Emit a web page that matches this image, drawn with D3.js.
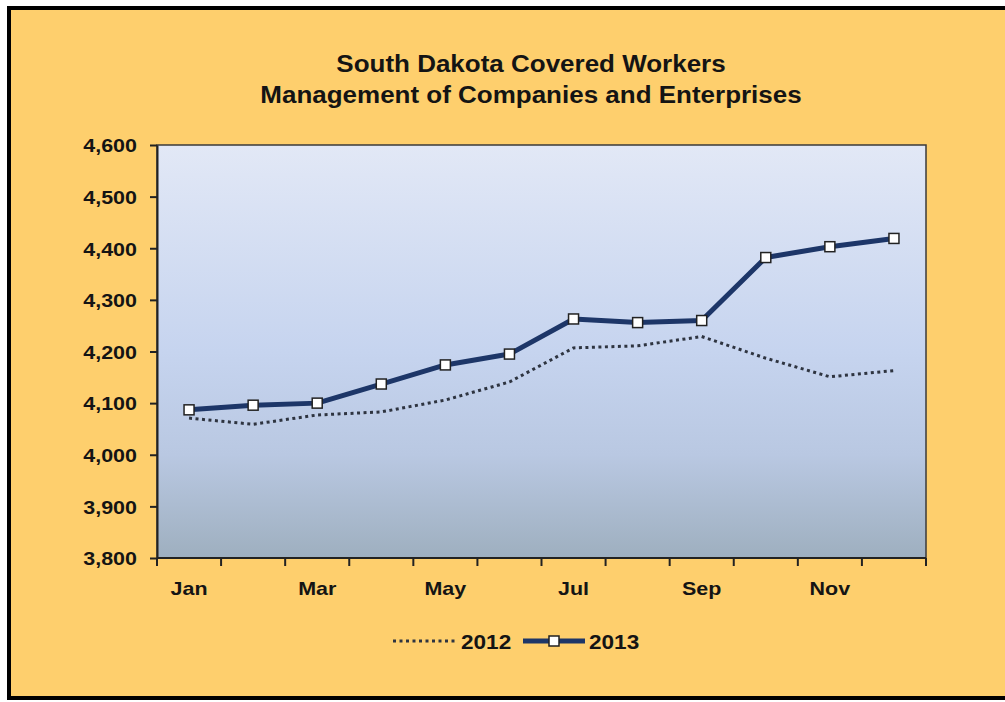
<!DOCTYPE html>
<html>
<head>
<meta charset="utf-8">
<script src="https://cdn.jsdelivr.net/npm/d3@7"></script>
<style>
  body { margin: 0; background: #fff; }
  text { font-family: "Liberation Sans", Arial, sans-serif; font-weight: bold; fill: #141414; }
</style>
</head>
<body>
<svg id="chart" width="1005" height="702"></svg>
<script>
const months = ["Jan", "Feb", "Mar", "Apr", "May", "Jun", "Jul", "Aug", "Sep", "Oct", "Nov", "Dec"]
const values2012 = [4071, 4059, 4077, 4083, 4106, 4141, 4207, 4211, 4229, 4187, 4151, 4163]
const values2013 = [4087, 4096, 4100, 4137, 4174, 4195, 4263, 4256, 4260, 4382, 4403, 4419]
const yTicks = [3800, 3900, 4000, 4100, 4200, 4300, 4400, 4500, 4600]
const shownMonths = ["Jan", "Mar", "May", "Jul", "Sep", "Nov"]

const width = 1005,
    height = 702
const plot = { left: 157, top: 145, right: 926, bottom: 558 }
// the original text is a bit wider than Arial
const stretch = 1.13

const navy = "#1d3668"
const bg = "#fecf6d"

const svg = d3.select("#chart")

// text helper, stretched horizontally around its anchor
const addText = (x, y, str, size, anchor) => {
    return svg.append("text")
        .attr("transform", `translate(${x},${y}) scale(${stretch},1)`)
        .attr("text-anchor", anchor || "start")
        .style("font-size", size + "px")
        .text(str)
}

// outer frame
svg.append("rect")
    .attr("x", 9).attr("y", 8)
    .attr("width", width + 10).attr("height", 690)
    .attr("fill", bg)
    .attr("stroke", "#000")
    .attr("stroke-width", 4)

// gradient for plot area
const grad = svg.append("defs").append("linearGradient")
    .attr("id", "plotGrad")
    .attr("x1", 0).attr("y1", 0).attr("x2", 0).attr("y2", 1)
grad.append("stop").attr("offset", "0%").attr("stop-color", "#e2e8f6")
grad.append("stop").attr("offset", "50%").attr("stop-color", "#c6d4ef")
grad.append("stop").attr("offset", "75%").attr("stop-color", "#b9c8e2")
grad.append("stop").attr("offset", "100%").attr("stop-color", "#9eafbf")

const x = d3.scaleBand()
    .domain(months)
    .range([plot.left, plot.right])

const y = d3.scaleLinear()
    .domain([3800, 4600])
    .range([plot.bottom, plot.top])

svg.append("rect")
    .attr("x", plot.left).attr("y", plot.top)
    .attr("width", plot.right - plot.left)
    .attr("height", plot.bottom - plot.top)
    .attr("fill", "url(#plotGrad)")
    .attr("stroke", "#3a3a3a")
    .attr("stroke-width", 1.5)

// title
addText(531, 72, "South Dakota Covered Workers", 23, "middle")
addText(531, 103, "Management of Companies and Enterprises", 23, "middle")

// y axis
const yAxis = d3.axisLeft(y)
    .tickValues(yTicks)
    .tickFormat(d3.format(","))
    .tickSize(7)
    .tickPadding(0)
    .tickSizeOuter(0)
const gy = svg.append("g")
    .attr("transform", `translate(${plot.left},0)`)
    .call(yAxis)
gy.select(".domain").attr("stroke", "#222").attr("stroke-width", 2)
gy.selectAll(".tick line").attr("stroke", "#222").attr("stroke-width", 2)
gy.selectAll(".tick text")
    .attr("x", null)
    .attr("dy", "0.36em")
    .attr("transform", `translate(-20,0) scale(${stretch},1)`)
    .attr("fill", "#141414")
    .style("font-size", "19px")
    .style("font-family", "'Liberation Sans', Arial, sans-serif")
    .style("font-weight", "bold")

// x axis: ticks sit between categories
const xTickPos = d3.range(months.length + 1).map(i => plot.left + i * x.step())
const gx = svg.append("g")
svg.append("line")
    .attr("x1", plot.left).attr("x2", plot.right)
    .attr("y1", plot.bottom).attr("y2", plot.bottom)
    .attr("stroke", "#222").attr("stroke-width", 2)
gx.selectAll("line.tick")
    .data(xTickPos)
    .enter().append("line")
    .attr("x1", d => d).attr("x2", d => d)
    .attr("y1", plot.bottom).attr("y2", plot.bottom + 8)
    .attr("stroke", "#222").attr("stroke-width", 2)
shownMonths.forEach(m => {
    addText(x(m) + x.bandwidth() / 2, 595, m, 19, "middle")
})

const line = d3.line()
    .x((d, i) => x(months[i]) + x.bandwidth() / 2)
    .y(d => y(d))

// 2012 dotted
svg.append("path")
    .datum(values2012)
    .attr("d", line)
    .attr("fill", "none")
    .attr("stroke", "#2e3440")
    .attr("stroke-width", 3)
    .attr("stroke-dasharray", "3,3.5")

// 2013 solid with markers
svg.append("path")
    .datum(values2013)
    .attr("d", line)
    .attr("fill", "none")
    .attr("stroke", navy)
    .attr("stroke-width", 5)
    .attr("stroke-linejoin", "round")

svg.append("g")
    .selectAll("rect")
    .data(values2013)
    .enter().append("rect")
    .attr("x", (d, i) => x(months[i]) + x.bandwidth() / 2 - 5)
    .attr("y", d => y(d) - 5)
    .attr("width", 10).attr("height", 10)
    .attr("fill", "#fff")
    .attr("stroke", "#222")
    .attr("stroke-width", 1.5)

// legend
const legendY = 641
svg.append("line")
    .attr("x1", 393).attr("x2", 455)
    .attr("y1", legendY).attr("y2", legendY)
    .attr("stroke", "#2e3440")
    .attr("stroke-width", 3)
    .attr("stroke-dasharray", "3,3.5")
addText(461, legendY + 8, "2012", 20)
svg.append("line")
    .attr("x1", 523).attr("x2", 585)
    .attr("y1", legendY).attr("y2", legendY)
    .attr("stroke", navy)
    .attr("stroke-width", 5)
svg.append("rect")
    .attr("x", 549).attr("y", legendY - 5)
    .attr("width", 10).attr("height", 10)
    .attr("fill", "#fff")
    .attr("stroke", "#222")
    .attr("stroke-width", 1.5)
addText(589, legendY + 8, "2013", 20)
</script>
</body>
</html>
